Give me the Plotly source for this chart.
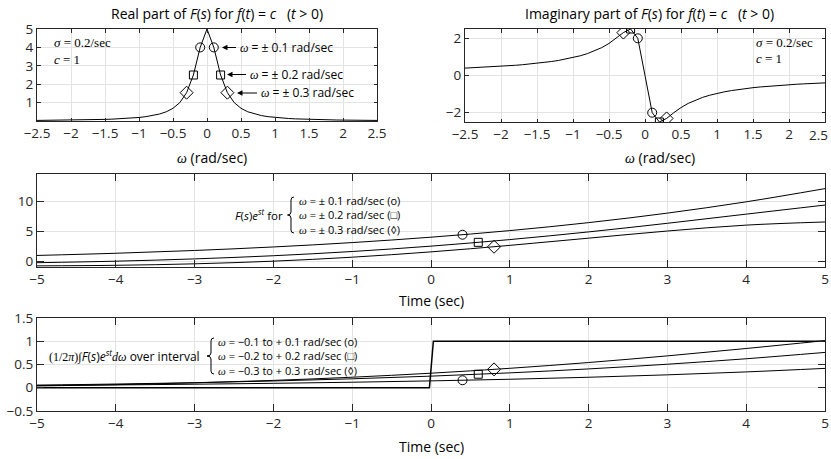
import plotly.graph_objects as go

W, H = 831, 459

# ---------------- data ----------------
omega = [-2.5, -2.4, -2.3, -2.2, -2.1, -2.0, -1.9, -1.8, -1.7, -1.6, -1.5, -1.4, -1.3,
         -1.2, -1.1, -1.0, -0.9, -0.8, -0.7, -0.6, -0.5, -0.4, -0.3, -0.2, -0.1, 0.0,
         0.1, 0.2, 0.3, 0.4, 0.5, 0.6, 0.7, 0.8, 0.9, 1.0, 1.1, 1.2, 1.3, 1.4, 1.5,
         1.6, 1.7, 1.8, 1.9, 2.0, 2.1, 2.2, 2.3, 2.4, 2.5]
re_F = [0.0318, 0.0345, 0.0375, 0.0410, 0.0449, 0.0495, 0.0548, 0.0610, 0.0683, 0.0769,
        0.0873, 0.1, 0.1156, 0.1351, 0.16, 0.1923, 0.2353, 0.2941, 0.3774, 0.5, 0.6897,
        1.0, 1.5385, 2.5, 4.0, 5.0, 4.0, 2.5, 1.5385, 1.0, 0.6897, 0.5, 0.3774, 0.2941,
        0.2353, 0.1923, 0.16, 0.1351, 0.1156, 0.1, 0.0873, 0.0769, 0.0683, 0.0610, 0.0548,
        0.0495, 0.0449, 0.0410, 0.0375, 0.0345, 0.0318]
im_F = [0.3975, 0.4138, 0.4315, 0.4508, 0.4719, 0.4950, 0.5205, 0.5488, 0.5802, 0.6154,
        0.6550, 0.7, 0.7514, 0.8108, 0.88, 0.9615, 1.0588, 1.1765, 1.3208, 1.5, 1.7241,
        2.0, 2.3077, 2.5, 2.0, 0.0, -2.0, -2.5, -2.3077, -2.0, -1.7241, -1.5, -1.3208,
        -1.1765, -1.0588, -0.9615, -0.88, -0.8108, -0.7514, -0.7, -0.6550, -0.6154,
        -0.5802, -0.5488, -0.5205, -0.4950, -0.4719, -0.4508, -0.4315, -0.4138, -0.3975]

mk_w_circ = [-0.1, 0.1]
mk_w_sq = [-0.2, 0.2]
mk_w_dia = [-0.3, 0.3]
mk_re_circ = [4.0, 4.0]
mk_re_sq = [2.5, 2.5]
mk_re_dia = [1.5385, 1.5385]
mk_im_circ = [2.0, -2.0]
mk_im_sq = [2.5, -2.5]
mk_im_dia = [2.3077, -2.3077]

t_vals = [-5, -4, -3, -2, -1, 0, 1, 2, 3, 4, 5]
fe_01 = [0.939, 1.305, 1.773, 2.361, 3.095, 4.0, 5.105, 6.441, 8.040, 9.933, 12.149]
fe_02 = [-0.277, -0.023, 0.358, 0.891, 1.599, 2.5, 3.599, 4.887, 6.332, 7.868, 9.390]
fe_03 = [-0.807, -0.716, -0.467, -0.022, 0.645, 1.538, 2.628, 3.838, 5.036, 6.027, 6.553]
mk_t = [0.4, 0.6, 0.8]
mk_fe = [4.415, 3.136, 2.397]

int_01 = [0.0480, 0.0606, 0.0761, 0.0952, 0.1188, 0.1476, 0.1828, 0.2257, 0.2777, 0.3406, 0.4163]
int_02 = [0.0571, 0.0797, 0.1088, 0.1459, 0.1924, 0.2500, 0.3203, 0.4050, 0.5057, 0.6237, 0.7600]
int_03 = [0.0381, 0.0662, 0.1055, 0.1582, 0.2267, 0.3128, 0.4180, 0.5425, 0.6855, 0.8442, 1.0136]
mk_int = [0.161, 0.291, 0.395]
step_t = [-5, -0.02, 0.03, 5]
step_y = [0, 0, 1, 1]

w_ticks = [-2.5, -2, -1.5, -1, -0.5, 0, 0.5, 1, 1.5, 2, 2.5]
w_labels = ["−2.5", "−2", "−1.5", "−1", "−0.5", "0", "0.5", "1", "1.5", "2", "2.5"]
t_ticks = [-5, -4, -3, -2, -1, 0, 1, 2, 3, 4, 5]

# ---------------- styling ----------------
SANS = "Open Sans"
SERIF = "Liberation Serif"
AX = "#262626"
GRID = "#e3e3e3"
TICK_SIZE = 13.5


def px(x, y):
    return x / W, 1 - y / H


def dom_x(a, b):
    return [a / W, b / W]


def dom_y(top, bot):
    return [1 - bot / H, 1 - top / H]


def axis(domain, rng, tickvals, ticklen, anchor, ticktext=None):
    d = dict(domain=domain, range=rng, tickvals=tickvals, ticks="inside", ticklen=ticklen,
             tickcolor=AX, tickwidth=1, showline=True, linecolor=AX, linewidth=1,
             mirror="ticks", showgrid=True, gridcolor=GRID, gridwidth=1, zeroline=False,
             tickfont=dict(family=SANS, size=TICK_SIZE, color=AX), anchor=anchor,
             ticklabeloverflow="allow", automargin=False, fixedrange=True)
    if ticktext is not None:
        d["ticktext"] = ticktext
    return d


fig = go.Figure()
line_k = dict(color="black", width=1)


def mk(sym, size):
    return dict(symbol=sym, size=size, color="black", line=dict(color="black", width=1))


# top-left: real part
fig.add_trace(go.Scatter(x=omega, y=re_F, mode="lines", line=line_k, xaxis="x", yaxis="y"))
fig.add_trace(go.Scatter(x=mk_w_circ, y=mk_re_circ, mode="markers", marker=mk("circle-open", 9), xaxis="x", yaxis="y"))
fig.add_trace(go.Scatter(x=mk_w_sq, y=mk_re_sq, mode="markers", marker=mk("square-open", 8), xaxis="x", yaxis="y"))
fig.add_trace(go.Scatter(x=mk_w_dia, y=mk_re_dia, mode="markers", marker=mk("diamond-open", 10), xaxis="x", yaxis="y"))

# top-right: imaginary part
fig.add_trace(go.Scatter(x=omega, y=im_F, mode="lines", line=line_k, xaxis="x2", yaxis="y2"))
fig.add_trace(go.Scatter(x=mk_w_circ, y=mk_im_circ, mode="markers", marker=mk("circle-open", 9), xaxis="x2", yaxis="y2"))
fig.add_trace(go.Scatter(x=mk_w_sq, y=mk_im_sq, mode="markers", marker=mk("square-open", 8), xaxis="x2", yaxis="y2"))
fig.add_trace(go.Scatter(x=mk_w_dia, y=mk_im_dia, mode="markers", marker=mk("diamond-open", 10), xaxis="x2", yaxis="y2"))

# middle
for ser in (fe_01, fe_02, fe_03):
    fig.add_trace(go.Scatter(x=t_vals, y=ser, mode="lines", line=dict(color="black", width=1, shape="spline"),
                             xaxis="x3", yaxis="y3"))
fig.add_trace(go.Scatter(x=mk_t[:1], y=mk_fe[:1], mode="markers", marker=mk("circle-open", 9), xaxis="x3", yaxis="y3"))
fig.add_trace(go.Scatter(x=mk_t[1:2], y=mk_fe[1:2], mode="markers", marker=mk("square-open", 8), xaxis="x3", yaxis="y3"))
fig.add_trace(go.Scatter(x=mk_t[2:], y=mk_fe[2:], mode="markers", marker=mk("diamond-open", 10), xaxis="x3", yaxis="y3"))

# bottom
fig.add_trace(go.Scatter(x=step_t, y=step_y, mode="lines", line=dict(color="black", width=1.5), xaxis="x4", yaxis="y4"))
for ser in (int_01, int_02, int_03):
    fig.add_trace(go.Scatter(x=t_vals, y=ser, mode="lines", line=dict(color="black", width=1, shape="spline"),
                             xaxis="x4", yaxis="y4"))
fig.add_trace(go.Scatter(x=mk_t[:1], y=mk_int[:1], mode="markers", marker=mk("circle-open", 9), xaxis="x4", yaxis="y4"))
fig.add_trace(go.Scatter(x=mk_t[1:2], y=mk_int[1:2], mode="markers", marker=mk("square-open", 8), xaxis="x4", yaxis="y4"))
fig.add_trace(go.Scatter(x=mk_t[2:], y=mk_int[2:], mode="markers", marker=mk("diamond-open", 10), xaxis="x4", yaxis="y4"))

# the last label of the top-right axis is drawn as an annotation so it stays inside the page
w_labels_right = w_labels[:-1] + [""]

fig.update_layout(
    template="none",
    width=W, height=H, margin=dict(l=0, r=0, t=0, b=0, autoexpand=False), showlegend=False,
    paper_bgcolor="white", plot_bgcolor="white",
    xaxis=axis(dom_x(37, 377), [-2.5, 2.5], w_ticks, 3.5, "y", w_labels),
    yaxis=axis(dom_y(29, 121), [0, 5], [1, 2, 3, 4, 5], 3.5, "x"),
    xaxis2=axis(dom_x(465, 825), [-2.5, 2.5], w_ticks, 3.5, "y2", w_labels_right),
    yaxis2=axis(dom_y(29, 122), [-2.5, 2.5], [-2, 0, 2], 3.5, "x2"),
    xaxis3=axis(dom_x(37, 825), [-5, 5], t_ticks, 7, "y3"),
    yaxis3=axis(dom_y(174, 267), [-1, 14.6], [0, 5, 10], 7, "x3"),
    xaxis4=axis(dom_x(37, 825), [-5, 5], t_ticks, 7, "y4"),
    yaxis4=axis(dom_y(318, 411), [-0.5, 1.5], [-0.5, 0, 0.5, 1, 1.5], 7, "x4"),
)

ann = []


def text(x, y, s, size=13, family=SANS, xanchor="center", align="left", color="black"):
    X, Y = px(x, y)
    ann.append(dict(x=X, y=Y, xref="paper", yref="paper", text=s, showarrow=False,
                    xanchor=xanchor, yanchor="middle", align=align, borderpad=0,
                    font=dict(family=family, size=size, color=color)))


def arrow_text(head_x, text_x, y, s, size=12):
    X, Y = px(head_x, y)
    ann.append(dict(x=X, y=Y, xref="paper", yref="paper", text=s, showarrow=True,
                    ax=text_x - head_x, ay=0, xanchor="left", yanchor="middle",
                    arrowhead=2, arrowsize=1.1, arrowwidth=1, arrowcolor="black",
                    startstandoff=2, font=dict(family=SANS, size=size, color="black")))


sp = "\u00a0"
W_I = '<span style="font-family:Liberation Serif"><i>ω</i></span>'

text(829, 134.5, w_labels[-1], size=TICK_SIZE, xanchor="right", color=AX)

text(217, 13, "Real part of <i>F</i>(<i>s</i>) for <i>f</i>(<i>t</i>) = <i>c</i>" + sp * 3 + "(<i>t</i> > 0)", size=14)
text(649, 13, "Imaginary part of <i>F</i>(<i>s</i>) for <i>f</i>(<i>t</i>) = <i>c</i>" + sp * 3 + "(<i>t</i> > 0)", size=14)
text(212, 158, W_I + " (rad/sec)", size=14)
text(660, 158, W_I + " (rad/sec)", size=14)
text(431, 300, "Time (sec)", size=14)
text(431, 446, "Time (sec)", size=14)

text(53, 42, "<i>σ</i> = 0.2/sec", size=13, family=SERIF, xanchor="left")
text(53, 60, "<i>c</i> = 1", size=13, family=SERIF, xanchor="left")
text(755, 42, "<i>σ</i> = 0.2/sec", size=13, family=SERIF, xanchor="left")
text(755, 58, "<i>c</i> = 1", size=13, family=SERIF, xanchor="left")

arrow_text(222, 238, 47.5, W_I + " = ± 0.1 rad/sec")
arrow_text(227, 248, 74.5, W_I + " = ± 0.2 rad/sec")
arrow_text(237, 259, 93, W_I + " = ± 0.3 rad/sec")

text(284, 215, "<i>F</i>(<i>s</i>)<i>e</i><sup><i>st</i></sup> for", size=11.5, xanchor="right")
text(298, 215, W_I + " = ± 0.1 rad/sec (o)<br>" + W_I + " = ± 0.2 rad/sec (□)<br>"
     + W_I + " = ± 0.3 rad/sec (◊)", size=11, xanchor="left")

text(201, 356, '<span style="font-family:Liberation Serif">(1/2<i>π</i>)∫</span><i>F</i>(<i>s</i>)<i>e</i><sup><i>st</i></sup>'
     '<span style="font-family:Liberation Serif"><i>dω</i></span> over interval', size=12, xanchor="right")
text(217, 356, W_I + " = −0.1 to + 0.1 rad/sec (o)<br>" + W_I + " = −0.2 to + 0.2 rad/sec (□)<br>"
     + W_I + " = −0.3 to + 0.3 rad/sec (◊)", size=11, xanchor="left")

fig.update_layout(annotations=ann)


def brace(xl, xc, xr, yt, ym, yb):
    def P(x, y):
        a, b = px(x, y)
        return f"{a:.5f},{b:.5f}"
    r = 3
    return (f"M {P(xr, yt)} Q {P(xc, yt)} {P(xc, yt + r)} L {P(xc, ym - r)} "
            f"Q {P(xc, ym)} {P(xl, ym)} Q {P(xc, ym)} {P(xc, ym + r)} "
            f"L {P(xc, yb - r)} Q {P(xc, yb)} {P(xr, yb)}")


fig.update_layout(shapes=[
    dict(type="path", xref="paper", yref="paper", path=brace(287.5, 291, 294, 197, 215, 233),
         line=dict(color="black", width=1)),
    dict(type="path", xref="paper", yref="paper", path=brace(207, 211, 214, 338, 356, 374),
         line=dict(color="black", width=1)),
])

fig.write_html("out.html")
